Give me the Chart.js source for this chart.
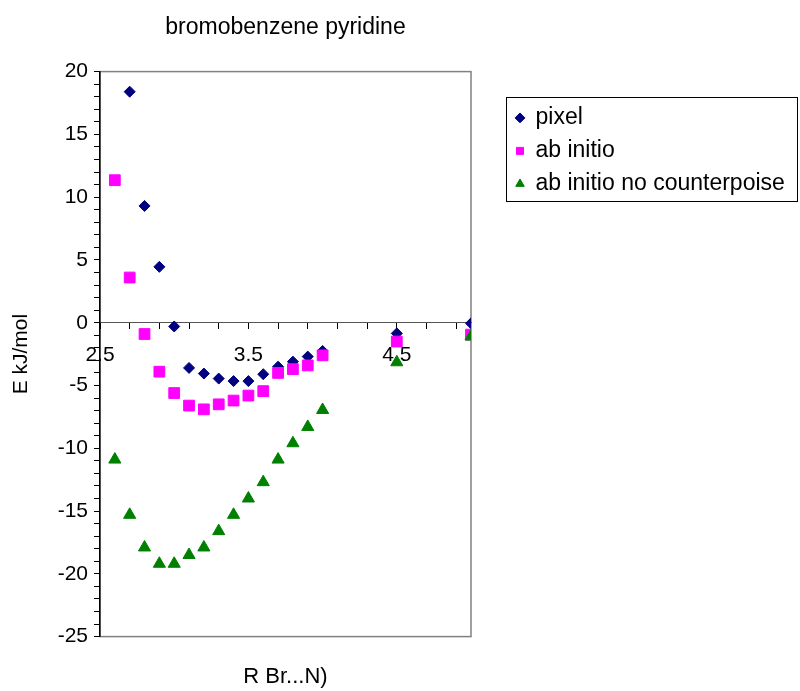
<!DOCTYPE html>
<html>
<head>
<meta charset="utf-8">
<script src="https://cdn.jsdelivr.net/npm/chart.js@4.4.0/dist/chart.umd.min.js"></script>
<style>
  html, body { margin: 0; padding: 0; background: #fff; }
  #wrap { width: 800px; height: 691px; }
</style>
</head>
<body>
<div id="wrap"><canvas id="chart"></canvas></div>
<script>
// R (Br...N distance) and energies
const pixelR = [2.7, 2.8, 2.9, 3.0, 3.1, 3.2, 3.3, 3.4, 3.5, 3.6, 3.7, 3.8, 3.9, 4.0, 4.5, 5.0];
const pixelE = [18.4, 9.3, 4.45, -0.3, -3.6, -4.05, -4.45, -4.65, -4.65, -4.1, -3.5, -3.1, -2.7, -2.25, -0.85, -0.05];

const abInitioR = [2.6, 2.7, 2.8, 2.9, 3.0, 3.1, 3.2, 3.3, 3.4, 3.5, 3.6, 3.7, 3.8, 3.9, 4.0, 4.5, 5.0];
const abInitioE = [11.35, 3.6, -0.9, -3.9, -5.6, -6.6, -6.9, -6.5, -6.2, -5.8, -5.45, -4.0, -3.7, -3.4, -2.6, -1.5, -0.95];

const noCpR = [2.6, 2.7, 2.8, 2.9, 3.0, 3.1, 3.2, 3.3, 3.4, 3.5, 3.6, 3.7, 3.8, 3.9, 4.0, 4.5, 5.0];
const noCpE = [-10.9, -15.3, -17.9, -19.2, -19.2, -18.5, -17.9, -16.6, -15.3, -14.0, -12.7, -10.9, -9.6, -8.3, -6.95, -3.15, -1.1];

// axis ticks
const xTickValues = [2.5, 2.7, 2.9, 3.1, 3.3, 3.5, 3.7, 3.9, 4.1, 4.3, 4.5, 4.7, 4.9];
const xTickLabels = ['2.5', '3.5', '4.5'];
const yLabelStep = 5;

const LEGEND_GAP = 35;   // space between plot frame and legend box

Chart.defaults.font.family = "'Liberation Sans', Arial, sans-serif";
Chart.defaults.color = '#000';

const toPoints = (xs, ys) => xs.map((x, i) => ({ x: x, y: ys[i] }));

// white plot area with grey frame, legend moved next to the plot, box round the legend
const framePlugin = {
    id: 'frame',
    afterLayout(chart) {
        // chart.js caps a side legend at a quarter of the width, so widen it by hand
        const lg = chart.legend;
        lg.left = chart.chartArea.right + LEGEND_GAP;
        lg.right = chart.width;
        lg.width = lg.right - lg.left;
    },
    beforeDraw(chart) {
        const { ctx, chartArea: a } = chart;
        ctx.save();
        ctx.fillStyle = '#fff';
        ctx.fillRect(a.left, a.top, a.width, a.height);
        ctx.strokeStyle = '#808080';
        ctx.lineWidth = 1.5;
        ctx.strokeRect(a.left, a.top, a.width, a.height);
        ctx.restore();
    },
    afterDraw(chart) {
        const { ctx } = chart;
        const lg = chart.legend;
        const hb = lg.legendHitBoxes;
        if (!hb || !hb.length) return;
        const last = hb[hb.length - 1];
        const left = Math.round(lg.left) + 0.5;
        const top = Math.round(hb[0].top) - 8.5;
        const bottom = Math.round(last.top + last.height) + 6.5;
        const right = chart.width - 2.5;
        ctx.save();
        ctx.strokeStyle = '#000';
        ctx.lineWidth = 1;
        ctx.strokeRect(left, top, right - left, bottom - top);
        ctx.restore();
    }
};

const ctx = document.getElementById('chart').getContext('2d');
new Chart(ctx, {
    type: 'scatter',
    data: {
        datasets: [
            {
                label: 'pixel',
                data: toPoints(pixelR, pixelE),
                pointStyle: 'rectRot',
                pointRadius: 5.5,
                backgroundColor: '#000080',
                borderColor: '#000080',
                borderWidth: 1,
                order: 2,
                xAxisID: 'x',
                yAxisID: 'y'
            },
            {
                label: 'ab initio',
                data: toPoints(abInitioR, abInitioE),
                pointStyle: 'rect',
                pointRadius: 7.6,
                backgroundColor: '#ff00ff',
                borderColor: '#ff00ff',
                borderWidth: 1,
                order: 1,
                xAxisID: 'x',
                yAxisID: 'y'
            },
            {
                label: 'ab initio no counterpoise',
                data: toPoints(noCpR, noCpE),
                pointStyle: 'triangle',
                pointRadius: 7,
                backgroundColor: '#008000',
                borderColor: '#008000',
                borderWidth: 1,
                order: 0,
                xAxisID: 'x',
                yAxisID: 'y'
            }
        ]
    },
    options: {
        responsive: true,
        maintainAspectRatio: false,
        animation: false,
        layout: { padding: { left: 0, top: 0, bottom: 0, right: 172 } },
        scales: {
            x: {
                type: 'linear',
                axis: 'x',
                position: { y: 0 },
                min: 2.5,
                max: 5.0,
                afterBuildTicks: s => { s.ticks = xTickValues.map(v => ({ value: v })); },
                afterFit: s => { s.height = 0; },
                ticks: {
                    autoSkip: false,
                    maxRotation: 0,
                    padding: 14,
                    font: { size: 21 },
                    callback: v => {
                        const t = Number(v).toFixed(1);
                        return xTickLabels.includes(t) ? t : '';
                    }
                },
                grid: { drawOnChartArea: false, drawTicks: true, tickLength: 6, color: '#000' },
                border: { color: '#555', width: 1 }
            },
            xTitle: {
                type: 'linear',
                axis: 'x',
                position: 'bottom',
                min: 2.5,
                max: 5.0,
                ticks: { display: false },
                grid: { display: false, drawTicks: false },
                border: { display: false },
                title: { display: true, text: 'R Br...N)', font: { size: 22 }, padding: { top: 27, bottom: 1 } }
            },
            y: {
                type: 'linear',
                position: 'left',
                min: -25,
                max: 20,
                afterFit: s => { s.width = 100; },
                ticks: {
                    stepSize: 1,
                    autoSkip: false,
                    padding: 6,
                    font: { size: 21 },
                    callback: v => (v % yLabelStep === 0 ? String(v) : '')
                },
                grid: { drawOnChartArea: false, drawTicks: true, tickLength: 6, color: '#000' },
                border: { color: '#000', width: 1.5 },
                title: { display: true, text: 'E kJ/mol', font: { size: 21 }, padding: { top: 9, bottom: 0 } }
            }
        },
        plugins: {
            title: {
                display: true,
                text: 'bromobenzene pyridine',
                fullSize: false,
                color: '#000',
                font: { size: 23, weight: 'normal' },
                padding: { top: 14, bottom: 30 }
            },
            legend: {
                position: 'right',
                align: 'start',
                title: { display: true, text: '', padding: { top: 0, bottom: 82 } },
                labels: {
                    usePointStyle: true,
                    boxWidth: 8,
                    boxHeight: 7,
                    padding: 10,
                    color: '#000',
                    font: { size: 23 },
                    sort: (a, b) => a.datasetIndex - b.datasetIndex
                }
            },
            tooltip: { enabled: false }
        }
    },
    plugins: [framePlugin]
});
</script>
</body>
</html>
